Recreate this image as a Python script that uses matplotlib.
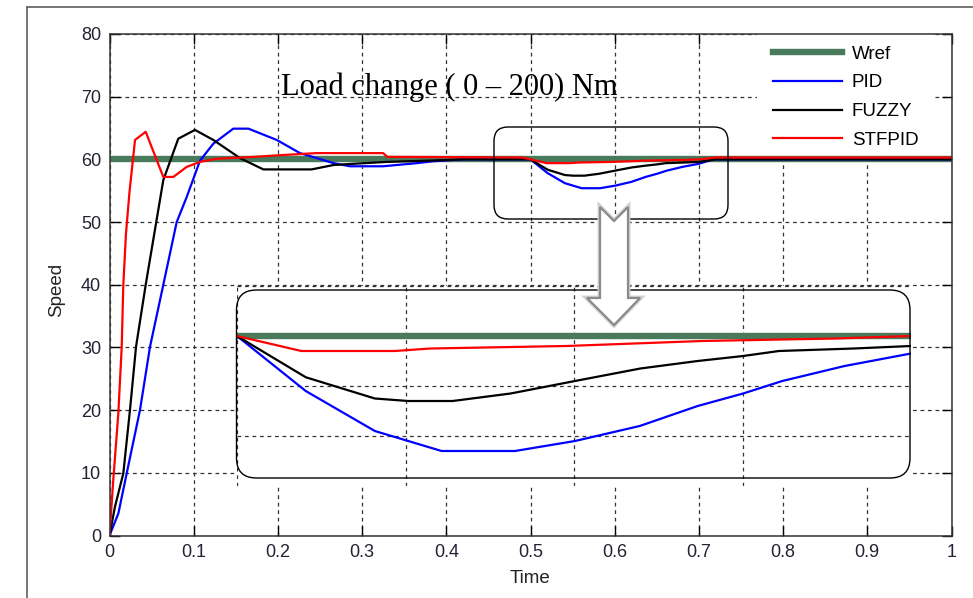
import matplotlib
matplotlib.use("Agg")
import matplotlib.pyplot as plt
from matplotlib.lines import Line2D
from matplotlib.patches import FancyBboxPatch, Polygon, Rectangle
from matplotlib.transforms import IdentityTransform

plt.rcParams['font.family'] = ['Liberation Sans', 'DejaVu Sans']

# speed responses (time in s, speed)
t_ref = [0.0, 1.0]
v_ref = [60, 60]

t_pid = [0.0, 0.0105, 0.0204, 0.0362, 0.0481, 0.0639, 0.0798, 0.0917, 0.1075, 0.1233,
         0.147, 0.165, 0.1986, 0.2262, 0.266, 0.2856, 0.325, 0.365, 0.3846, 0.42, 0.5,
         0.5204, 0.5409, 0.5508, 0.5607, 0.5825, 0.6003, 0.6195, 0.6367, 0.6502, 0.6618,
         0.6803, 0.7, 0.717, 1.0]
v_pid = [0, 3.5, 9.9, 20.0, 30.1, 40.0, 50.0, 54.0, 59.8, 62.5,
         64.9, 64.9, 63.1, 61.0, 59.4, 58.9, 58.9, 59.4, 59.7, 60.0, 60.0,
         57.8, 56.2, 55.8, 55.4, 55.4, 55.8, 56.4, 57.2, 57.7, 58.2,
         58.8, 59.3, 60.0, 60.0]

t_fuzzy = [0.0, 0.0065, 0.0164, 0.0243, 0.0315, 0.043, 0.0639, 0.0817, 0.1015, 0.1233,
           0.155, 0.1827, 0.24, 0.266, 0.29, 0.33, 0.38, 0.42, 0.5,
           0.5204, 0.5409, 0.5508, 0.564, 0.5812, 0.6003, 0.6197, 0.6367, 0.6502, 0.6608,
           0.683, 0.7, 0.72, 1.0]
v_fuzzy = [0, 4.6, 9.9, 20.0, 30.1, 40.0, 56.7, 63.3, 64.7, 63.1,
           60.2, 58.4, 58.4, 59.1, 59.3, 59.6, 59.8, 60.0, 60.0,
           58.35, 57.5, 57.4, 57.4, 57.7, 58.2, 58.7, 59.0, 59.2, 59.4,
           59.5, 59.6, 60.0, 60.0]

t_stfpid = [0.0, 0.0045, 0.0105, 0.0145, 0.0164, 0.0196, 0.0236, 0.0303, 0.043, 0.0639,
            0.0758, 0.0917, 0.1075, 0.1273, 0.171, 0.2064, 0.246, 0.325, 0.33, 0.49, 0.5,
            0.5191, 0.5468, 0.5574, 0.5977, 0.638, 0.6777, 0.7, 0.72, 1.0]
v_stfpid = [0, 8.9, 19.5, 30.1, 40.0, 48.2, 54.6, 63.1, 64.4, 57.2,
            57.2, 58.8, 59.6, 60.1, 60.4, 60.7, 61.0, 61.0, 60.4, 60.3, 60.0,
            59.4, 59.4, 59.5, 59.6, 59.8, 59.9, 60.0, 60.3, 60.3]

x_ticks = [0, 0.1, 0.2, 0.3, 0.4, 0.5, 0.6, 0.7, 0.8, 0.9, 1.0]
x_labels = ['0', '0.1', '0.2', '0.3', '0.4', '0.5', '0.6', '0.7', '0.8', '0.9', '1']
y_ticks = [0, 10, 20, 30, 40, 50, 60, 70, 80]

series = [
    ('Wref', t_ref, v_ref, '#497a5c', 4.6),
    ('PID', t_pid, v_pid, '#0000ff', 1.6),
    ('FUZZY', t_fuzzy, v_fuzzy, '#000000', 1.6),
    ('STFPID', t_stfpid, v_stfpid, '#ff0000', 1.6),
]

W, H = 973, 598
fig = plt.figure(figsize=(W / 100, H / 100), dpi=100)
fig.patch.set_facecolor('white')

grid_style = dict(color='#333333', linestyle=(0, (3, 3)), linewidth=0.9)

# main axes
ax = fig.add_axes([109.5 / W, 1 - 535.5 / H, 842 / W, 501.5 / H])
for name, t, v, c, lw in series:
    ax.plot(t, v, color=c, lw=lw, label=name)
ax.set_xlim(0, 1)
ax.set_ylim(0, 80)
ax.set_xticks(x_ticks)
ax.set_xticklabels(x_labels)
ax.set_yticks(y_ticks)
ax.grid(True, **grid_style)
ax.tick_params(direction='in', length=7, width=1, top=True, right=True,
               labelsize=13, labelcolor='#222233', pad=6)
for s in ax.spines.values():
    s.set_color('#333333')
    s.set_linewidth(1.1)
ax.set_xlabel('Time', fontsize=13.5, color='#222222', va='center')
ax.xaxis.set_label_coords(0.5, -0.085)
ax.set_ylabel('Speed', fontsize=13.5, color='#222222', va='center')
ax.yaxis.set_label_coords(-0.0624, 0.49)

ax.text(0.204, 70.3, 'Load change ( 0 \u2013 200) Nm', family='Liberation Serif',
        fontsize=22, va='baseline', ha='left')

# white patch behind the legend hides the grid there
ax.add_patch(Rectangle(((757 - 109.5) / 842, (535.5 - 165) / 501.5),
                       (935 - 757) / 842, (165 - 34) / 501.5,
                       transform=ax.transAxes, fc='white', ec='none', zorder=1.8))
leg = ax.legend(loc='upper left', bbox_to_anchor=(0.788, 0.977), frameon=False,
                fontsize=13.5, handlelength=3.7, handletextpad=0.5, labelspacing=0.62,
                borderpad=0, borderaxespad=0)

# zoomed view of the load change
ax_in = fig.add_axes([237 / W, 1 - 486 / H, 674 / W, 200 / H])
ax_in.set_facecolor('white')
for name, t, v, c, lw in series:
    ax_in.plot(t, v, color=c, lw=lw)
ax_in.set_xlim(0.5, 0.7)
ax_in.set_ylim(54, 62)
ax_in.set_xticks([0.5, 0.55, 0.6, 0.65])
ax_in.set_yticks([56, 58, 60, 62])
ax_in.grid(True, **grid_style)
ax_in.tick_params(length=0, labelbottom=False, labelleft=False)
for s in ax_in.spines.values():
    s.set_visible(False)

# rounded frames, drawn in pixel coordinates
fig.add_artist(FancyBboxPatch((236.5, H - 478), 910 - 236.5, 478 - 290,
                              boxstyle='round,pad=0,rounding_size=20',
                              fc='none', ec='black', lw=1.0,
                              transform=IdentityTransform(), zorder=5))
fig.add_artist(FancyBboxPatch((494, H - 219), 728 - 494, 219 - 127,
                              boxstyle='round,pad=0,rounding_size=14',
                              fc='none', ec='black', lw=1.0,
                              transform=IdentityTransform(), zorder=5))

# block arrow between the two frames
arrow_px = [(600, 207), (614, 221), (628, 207), (628, 298), (640, 298),
            (614, 325), (587, 298), (600, 298)]
arrow_xy = [(x, H - y) for x, y in arrow_px]
fig.add_artist(Polygon(arrow_xy, closed=True, fc='white', ec='#d0d0d0', lw=3.5,
                       transform=IdentityTransform(), zorder=6))
fig.add_artist(Polygon(arrow_xy, closed=True, fc='white', ec='#8a8a8a', lw=1.6,
                       transform=IdentityTransform(), zorder=7))

# window frame edges of the screenshot
fig.add_artist(Line2D([27 / W, 27 / W], [0, 1 - 7 / H], color='#6a6a6a', lw=1.3))
fig.add_artist(Line2D([27 / W, 1], [1 - 7 / H, 1 - 7 / H], color='#6a6a6a', lw=1.3))

fig.savefig('out.png', dpi=100)
